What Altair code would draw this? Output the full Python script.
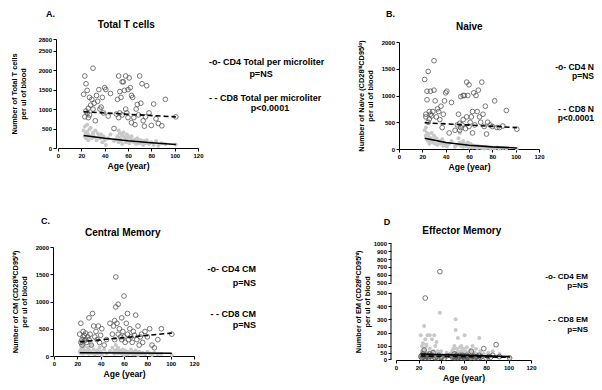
import altair as alt
import pandas as pd

FONT = "Liberation Sans"

# ---- shared subject ages ----
ages = [22, 23, 23, 24, 24, 25, 25, 26, 26, 27,
        27, 28, 29, 30, 30, 31, 32, 33, 34, 35,
        36, 37, 38, 39, 40, 41, 43, 45, 48, 50,
        51, 52, 52, 53, 53, 54, 55, 55, 56, 57,
        58, 58, 59, 60, 60, 61, 62, 63, 63, 64,
        65, 66, 67, 68, 69, 70, 71, 72, 73, 74,
        75, 76, 78, 80, 82, 84, 86, 89, 92, 101]

# ---- A. Total T cells ----
a_cd4 = [1380, 1850, 800, 950, 1650, 1480, 900, 780, 1020, 1300,
         850, 1100, 1250, 2050, 1000, 1150, 700, 1350, 1200, 1500,
         1000, 1050, 1300, 900, 1550, 1500, 820, 1400, 500, 870,
         1250, 1850, 780, 1450, 900, 1300, 1700, 850, 1700, 1480,
         1850, 1000, 900, 1500, 780, 1800, 1550, 1350, 650, 1300,
         780, 600, 1000, 1120, 850, 1850, 1150, 1650, 700, 560,
         800, 1600, 900, 580, 1130, 750, 630, 570, 1250, 800]
a_cd8 = [450, 300, 550, 380, 250, 600, 420, 200, 350, 480,
         300, 520, 250, 400, 350, 280, 450, 200, 380, 300,
         250, 350, 150, 300, 200, 80, 250, 350, 180, 220,
         300, 450, 150, 250, 380, 200, 320, 100, 400, 280,
         150, 250, 350, 200, 300, 120, 250, 180, 300, 200,
         150, 220, 100, 250, 180, 120, 200, 150, 80, 180,
         120, 200, 100, 150, 80, 180, 60, 120, 100, 90]
a_fit4_age = [22, 101]
a_fit4 = [930, 800]
a_fit8_age = [22, 40, 60, 80, 101]
a_fit8 = [320, 250, 185, 135, 90]

# ---- B. Naive ----
b_cd4 = [1300, 650, 600, 920, 1080, 1450, 500, 560, 700, 650,
         1080, 620, 700, 1650, 1100, 900, 600, 750, 700, 550,
         800, 400, 650, 900, 1050, 1080, 300, 870, 350, 450,
         650, 480, 350, 400, 980, 450, 1000, 550, 1000, 380,
         600, 1250, 1000, 420, 1200, 500, 600, 700, 300, 1050,
         450, 1000, 700, 1100, 600, 500, 1250, 650, 420, 800,
         280, 500, 450, 420, 900, 400, 400, 430, 720, 370]
b_cd8 = [350, 250, 400, 180, 300, 150, 280, 100, 220, 200,
         150, 300, 120, 250, 180, 100, 200, 80, 150, 120,
         100, 180, 60, 120, 80, 50, 100, 150, 40, 80,
         200, 120, 300, 100, 60, 80, 150, 40, 100, 60,
         50, 80, 120, 30, 60, 100, 40, 70, 30, 50,
         40, 60, 20, 50, 30, 40, 20, 30, 10, 40,
         20, 30, 10, 20, 15, 30, 10, 20, 10, 5]
b_fit4_age = [22, 101]
b_fit4 = [490, 400]
b_fit8_age = [22, 40, 60, 80, 101]
b_fit8 = [200, 120, 70, 40, 20]

# ---- C. Central Memory ----
c_cd4 = [400, 250, 600, 300, 200, 450, 350, 280, 380, 300,
         420, 250, 350, 700, 300, 400, 200, 780, 550, 350,
         450, 300, 550, 250, 380, 500, 200, 300, 600, 400,
         550, 650, 300, 1450, 900, 600, 950, 400, 500, 350,
         700, 300, 450, 1100, 350, 250, 600, 780, 400, 300,
         500, 350, 250, 450, 380, 750, 300, 550, 200, 350,
         400, 250, 450, 350, 500, 200, 150, 300, 500, 400]
c_cd8 = [80, 120, 50, 200, 60, 150, 40, 100, 180, 70,
         90, 60, 150, 40, 110, 80, 200, 50, 120, 30,
         60, 100, 40, 150, 80, 20, 120, 50, 90, 150,
         60, 100, 40, 200, 80, 120, 50, 150, 70, 100,
         40, 80, 120, 60, 20, 100, 50, 80, 30, 60,
         50, 120, 40, 80, 30, 100, 60, 20, 80, 50,
         40, 60, 30, 80, 50, 20, 60, 30, 40, 20]
c_fit4_age = [22, 101]
c_fit4 = [260, 420]
c_fit8_age = [22, 101]
c_fit8 = [60, 50]

# ---- D. Effector Memory ----
d_cd4 = [20, 30, 10, 40, 15, 70, 25, 10, 460, 30,
         20, 15, 10, 25, 40, 20, 30, 50, 15, 10,
         20, 10, 30, 640, 15, 20, 10, 25, 30, 15,
         20, 10, 40, 25, 15, 30, 10, 20, 15, 30,
         10, 20, 30, 15, 25, 10, 20, 15, 30, 20,
         15, 10, 60, 20, 25, 10, 15, 20, 10, 30,
         15, 20, 80, 10, 20, 15, 30, 110, 20, 10]
d_cd8 = [180, 60, 100, 40, 120, 80, 250, 150, 60, 110,
         100, 180, 50, 180, 80, 40, 150, 60, 180, 100,
         130, 60, 40, 350, 60, 30, 20, 50, 30, 60,
         80, 100, 50, 300, 220, 80, 160, 60, 40, 90,
         100, 60, 30, 80, 50, 180, 60, 40, 90, 50,
         40, 70, 60, 100, 30, 50, 80, 40, 30, 160,
         60, 30, 40, 20, 50, 30, 60, 20, 40, 15]
d_fit4_age = [22, 101]
d_fit4 = [25, 15]
d_fit8_age = [22, 101]
d_fit8 = [40, 20]

x_ticks = [0, 20, 40, 60, 80, 100, 120]
a_ticks = [0, 500, 1000, 1500, 2000, 2500, 2800]
bc_ticks = [0, 500, 1000, 1500, 2000]
d_ticks = [0, 50, 100, 200, 300, 400, 500, 500.01, 600, 700, 800, 900, 1000]

ONE = alt.Data(values=[{"k": 0}])


def txt(s, x, y, size=9, align="left"):
    return alt.Chart(ONE).mark_text(
        text=s, align=align, baseline="middle", font=FONT, fontSize=size,
        fontWeight="bold", color="black"
    ).encode(x=alt.value(x), y=alt.value(y))


def panel(cd4, cd8, f4x, f4y, f8x, f8y, width, height, xrange, yscale, yaxis, texts, extra=()):
    xs = alt.Scale(domain=[0, 120], range=xrange, nice=False, zero=False)
    xaxis = alt.Axis(values=x_ticks, title="Age (year)", format="d", tickCount=40,
                     labelOverlap=False, labelFlush=False)
    X = alt.X("age:Q", scale=xs, axis=xaxis)
    Y = alt.Y("v:Q", scale=yscale, axis=yaxis)
    p8 = alt.Chart(pd.DataFrame({"age": ages, "v": cd8})).mark_circle(
        size=16, color="#c8c8c8", opacity=1).encode(x=X, y=Y)
    p4 = alt.Chart(pd.DataFrame({"age": ages, "v": cd4})).mark_point(
        shape="circle", size=22, filled=False, color="#555555", strokeWidth=0.8,
        opacity=1).encode(x="age:Q", y="v:Q")
    l8 = alt.Chart(pd.DataFrame({"age": f8x, "v": f8y})).mark_line(
        color="black", strokeWidth=1.6).encode(x="age:Q", y="v:Q")
    l4 = alt.Chart(pd.DataFrame({"age": f4x, "v": f4y})).mark_line(
        color="black", strokeWidth=1.6, strokeDash=[5, 3]).encode(x="age:Q", y="v:Q")
    layers = [p8, p4, l8, l4] + list(extra) + [txt(*t) for t in texts]
    return alt.layer(*layers).properties(width=width, height=height)


def yax(title, values, pad, offset=0, domain=True, fmt="d"):
    return alt.Axis(values=values, title=title, titlePadding=pad, offset=offset,
                    domain=domain, format=fmt, tickCount=40, labelOverlap=False,
                    labelFlush=False)


A = panel(
    a_cd4, a_cd8, a_fit4_age, a_fit4, a_fit8_age, a_fit8,
    145, 109, [5, 145],
    alt.Scale(domain=[0, 2800], range=[109, 0], nice=False, zero=False),
    yax(["Number of Total T cells", "per ul of blood"], a_ticks, 11, offset=-3),
    [("-o- CD4 Total per microliter", 156, 23),
     ("p=NS", 208, 34.7, 9, "center"),
     ("- - CD8 Total per microliter", 156, 58.7),
     ("p<0.0001", 217, 68.7, 9, "center"),
     ("A.", -7, -25.3, 9),
     ("Total T cells", 73.3, -14, 10, "center")],
    extra=[alt.Chart(ONE).mark_point(shape="square", size=1, filled=True,
                                     color="white", opacity=1)
           .encode(x=alt.value(-44), y=alt.value(-30))],
)

B = panel(
    b_cd4, b_cd8, b_fit4_age, b_fit4, b_fit8_age, b_fit8,
    140, 110, [0, 140],
    alt.Scale(domain=[0, 2000], range=[110, 3], nice=False, zero=False),
    yax(["Number of Naive (CD28ʰⁱCD95ˡᵒ)", "per ul of blood"], bc_ticks, 6.5),
    [("-o- CD4 N", 195, 27.7, 8.5, "right"),
     ("p=NS", 195, 37, 8.5, "right"),
     ("- - CD8 N", 195, 70, 8.5, "right"),
     ("p<0.0001", 195, 79.3, 8.5, "right"),
     ("B.", -13, -24.7, 9),
     ("Naive", 70.3, -12.3, 10, "center")],
)

C = panel(
    c_cd4, c_cd8, c_fit4_age, c_fit4, c_fit8_age, c_fit8,
    141, 113, [1, 141],
    alt.Scale(domain=[0, 2000], range=[113, 4], nice=False, zero=False),
    yax(["Number of CM (CD28ʰⁱCD95ʰⁱ)", "per ul of blood"], bc_ticks, 6.5),
    [("-o- CD4 CM", 203, 25.7, 9, "right"),
     ("p=NS", 203, 40.3, 9, "right"),
     ("- - CD8 CM", 203, 71.3, 9, "right"),
     ("p=NS", 203, 82.3, 9, "right"),
     ("C.", -12, -22, 9),
     ("Central Memory", 69.7, -10.3, 10, "center")],
)

d_axis_rules = alt.Chart(pd.DataFrame({"v": [0, 500.01], "v2": [500, 1000]})).mark_rule(
    color="black", strokeWidth=1).encode(x=alt.value(0), y="v:Q", y2="v2:Q")

D = panel(
    d_cd4, d_cd8, d_fit4_age, d_fit4, d_fit8_age, d_fit8,
    140, 117, [5, 140],
    alt.Scale(domain=[0, 500, 500.01, 1000], range=[116.3, 49.7, 39.7, 0.3],
              nice=False, zero=False),
    yax(["Number of EM (CD28ˡᵒCD95ʰⁱ)", "per ul of blood"], d_ticks, 2,
        domain=False, fmt=".0f"),
    [("-o- CD4 EM", 197, 34, 8, "right"),
     ("p=NS", 197, 42.8, 8, "right"),
     ("- - CD8 EM", 197, 77.3, 8, "right"),
     ("p=NS", 197, 87, 8, "right"),
     ("D", -7.3, -21, 9),
     ("Effector Memory", 70.8, -12, 10, "center")],
    extra=[d_axis_rules],
)

row1 = alt.hconcat(A, B, spacing=201, bounds="flush")
row2 = alt.hconcat(C, D, spacing=197, bounds="flush")

# with flush bounds the nested row counts as zero height, so the spacing
# is the full distance between the two rows' plot tops
chart = (
    alt.vconcat(row1, row2, spacing=204, bounds="flush")
    .properties(padding=0, background="white")
    .configure_view(stroke=None)
    .configure_axis(
        grid=False, domainColor="black", domainWidth=1, tickColor="black",
        tickWidth=1, tickSize=3, labelFont=FONT, labelFontSize=6,
        labelFontWeight="bold", labelColor="black", labelPadding=1.5,
        labelOverlap=False,
        titleFont=FONT, titleFontSize=7.4, titleFontWeight="bold",
        titleColor="black", titleLineHeight=9,
    )
    .configure_axisX(titleFontSize=8.6, titlePadding=3, labelFlush=False)
)

chart.save("out.html", embed_options={"renderer": "svg", "actions": False})
